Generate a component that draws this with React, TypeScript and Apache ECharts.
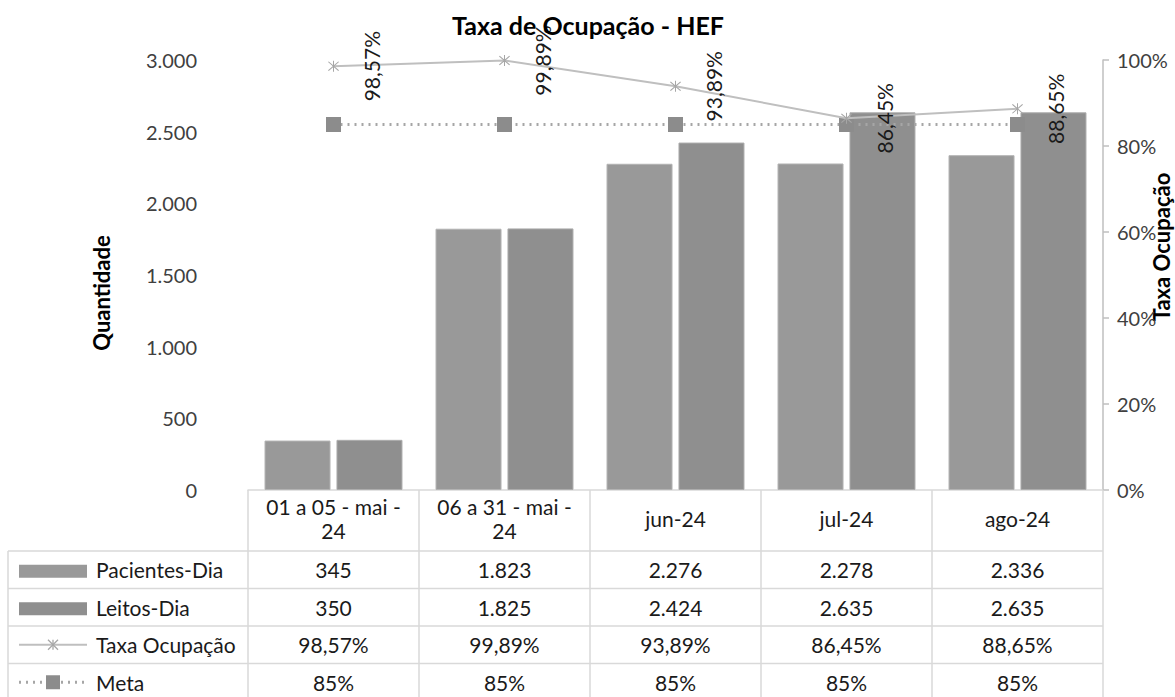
import React, { useEffect, useRef } from 'react';
import * as echarts from 'echarts';

const categories = ['01 a 05 - mai -\n24', '06 a 31 - mai -\n24', 'jun-24', 'jul-24', 'ago-24'];
const pacientesDia = [345, 1823, 2276, 2278, 2336];
const leitosDia = [350, 1825, 2424, 2635, 2635];
const taxaOcupacao = [98.57, 99.89, 93.89, 86.45, 88.65];
const meta = [85, 85, 85, 85, 85];
const seriesNames = ['Pacientes-Dia', 'Leitos-Dia', 'Taxa Ocupação', 'Meta'];

const W = 1175;
const H = 697;
const GL = 248;
const GR = 1103;
const GT = 60;
const GB = 490;
const TL = 8;
const HEADER_B = 551;
const ROW_H = 37.5;
const FONT = 'Lato, "Open Sans", sans-serif';
const FS = 21;
const FS_AX = 20;
const GRID_COLOR = '#d9d9d9';
const C_PAC = '#999999';
const C_LEI = '#8f8f8f';
const C_TAXA = '#bfbfbf';
const C_TAXA_MK = '#a6a6a6';
const C_META = '#a6a6a6';
const C_META_MK = '#8c8c8c';

const ASTERISK =
  'path://M9.2 0L10.8 0L10.8 20L9.2 20Z M1.4 2.6L2.6 1.4L18.6 17.4L17.4 18.6Z M17.4 1.4L18.6 2.6L2.6 18.6L1.4 17.4Z';

const fmtInt = (n: number) => String(n).replace(/\B(?=(\d{3})+(?!\d))/g, '.');
const fmtPct2 = (v: number) => v.toFixed(2).replace('.', ',') + '%';
const fmtPct0 = (v: number) => Math.round(v) + '%';

function buildTable(): any[] {
  const els: any[] = [];
  const n = categories.length;
  const colW = (GR - GL) / n;
  const rows = [
    pacientesDia.map(fmtInt),
    leitosDia.map(fmtInt),
    taxaOcupacao.map(fmtPct2),
    meta.map(fmtPct0),
  ];
  const bottom = HEADER_B + ROW_H * rows.length;
  const line = (x1: number, y1: number, x2: number, y2: number) => ({
    type: 'line',
    silent: true,
    shape: { x1, y1, x2, y2 },
    style: { stroke: GRID_COLOR, lineWidth: 1.5 },
  });
  for (let i = 0; i <= rows.length; i++) {
    const y = HEADER_B + i * ROW_H;
    els.push(line(TL, y, GR, y));
  }
  els.push(line(TL, HEADER_B, TL, bottom));
  for (let k = 0; k <= n; k++) {
    const x = GL + k * colW;
    els.push(line(x, HEADER_B, x, bottom));
  }
  rows.forEach((vals, r) => {
    const cy = HEADER_B + r * ROW_H + ROW_H / 2;
    vals.forEach((t, c) => {
      els.push({
        type: 'text',
        silent: true,
        x: GL + c * colW + colW / 2,
        y: cy,
        style: { text: t, fill: '#1a1a1a', font: `${FS}px ${FONT}`, align: 'center', verticalAlign: 'middle' },
      });
    });
    els.push({
      type: 'text',
      silent: true,
      x: 96,
      y: cy,
      style: { text: seriesNames[r], fill: '#1a1a1a', font: `${FS}px ${FONT}`, align: 'left', verticalAlign: 'middle' },
    });
    const sx1 = 19;
    const sx2 = 87;
    const mx = (sx1 + sx2) / 2;
    if (r === 0 || r === 1) {
      els.push({
        type: 'rect',
        silent: true,
        shape: { x: sx1, y: cy - 5, width: sx2 - sx1, height: 13 },
        style: { fill: r === 0 ? C_PAC : C_LEI },
      });
    } else if (r === 2) {
      els.push({
        type: 'line',
        silent: true,
        shape: { x1: sx1, y1: cy, x2: sx2, y2: cy },
        style: { stroke: C_TAXA, lineWidth: 2 },
      });
      const s = 5;
      [[0, -s, 0, s], [-s, -s, s, s], [-s, s, s, -s]].forEach((d) =>
        els.push({
          type: 'line',
          silent: true,
          shape: { x1: mx + d[0], y1: cy + d[1], x2: mx + d[2], y2: cy + d[3] },
          style: { stroke: C_TAXA_MK, lineWidth: 1.3 },
        })
      );
    } else {
      els.push({
        type: 'line',
        silent: true,
        shape: { x1: sx1, y1: cy, x2: sx2, y2: cy },
        style: { stroke: C_META, lineWidth: 3, lineDash: [2, 5] },
      });
      els.push({
        type: 'rect',
        silent: true,
        shape: { x: mx - 7, y: cy - 7, width: 14, height: 14 },
        style: { fill: C_META_MK },
      });
    }
  });
  return els;
}

export default function App() {
  const ref = useRef<HTMLDivElement>(null);
  useEffect(() => {
    if (!ref.current) return;
    const chart = echarts.init(ref.current, undefined, { renderer: 'svg' });
    const axisText = { color: '#404040', fontFamily: FONT, fontSize: FS_AX };
    chart.setOption({
      animation: false,
      backgroundColor: '#ffffff',
      title: {
        text: 'Taxa de Ocupação - HEF',
        left: 583,
        top: 7,
        textAlign: 'center',
        textStyle: { fontFamily: FONT, fontSize: 25, fontWeight: 'bold', color: '#000' },
      },
      grid: {
        left: GL,
        width: GR - GL,
        top: GT,
        height: GB - GT,
        containLabel: false,
        outerBoundsMode: 'none',
      },
      xAxis: {
        type: 'category',
        data: categories,
        axisLine: { show: true, lineStyle: { color: GRID_COLOR, width: 1.5 } },
        axisTick: { show: true, interval: 0, length: HEADER_B - GB, lineStyle: { color: GRID_COLOR, width: 1.5 } },
        axisLabel: {
          interval: 0,
          margin: 28,
          verticalAlign: 'middle',
          lineHeight: 24,
          color: '#1a1a1a',
          fontFamily: FONT,
          fontSize: FS,
        },
      },
      yAxis: [
        {
          type: 'value',
          min: 0,
          max: 3000,
          interval: 500,
          name: 'Quantidade',
          nameLocation: 'middle',
          nameRotate: 90,
          nameGap: 136,
          nameMoveOverlap: false,
          nameTextStyle: { fontFamily: FONT, fontSize: 22, fontWeight: 'bold', color: '#000', padding: [0, 36, 0, 0] },
          axisLine: { show: false },
          axisTick: { show: false },
          splitLine: { show: false },
          axisLabel: { ...axisText, margin: 51, formatter: (v: number) => fmtInt(v) },
        },
        {
          type: 'value',
          min: 0,
          max: 100,
          interval: 20,
          name: 'Taxa Ocupação',
          nameLocation: 'middle',
          nameRotate: 90,
          nameGap: 47,
          nameMoveOverlap: false,
          nameTextStyle: { fontFamily: FONT, fontSize: 22, fontWeight: 'bold', color: '#000', padding: [0, 0, 0, 56] },
          axisLine: { show: true, lineStyle: { color: C_TAXA, width: 1.5 } },
          axisTick: { show: true, length: 6, lineStyle: { color: C_TAXA, width: 1.5 } },
          splitLine: { show: false },
          axisLabel: { ...axisText, margin: 14, formatter: (v: number) => v + '%' },
        },
      ],
      series: [
        {
          name: seriesNames[0],
          type: 'bar',
          data: pacientesDia,
          barWidth: 66,
          barGap: '9%',
          itemStyle: { color: C_PAC, borderColor: '#b3b3b3', borderWidth: 1 },
        },
        {
          name: seriesNames[1],
          type: 'bar',
          data: leitosDia,
          barWidth: 66,
          itemStyle: { color: C_LEI, borderColor: '#adadad', borderWidth: 1 },
        },
        {
          name: seriesNames[3],
          type: 'line',
          yAxisIndex: 1,
          data: meta,
          symbol: 'rect',
          symbolSize: 15,
          itemStyle: { color: C_META_MK },
          lineStyle: { color: C_META, width: 3, type: [2, 5] },
          z: 3,
        },
        {
          name: seriesNames[2],
          type: 'line',
          yAxisIndex: 1,
          data: taxaOcupacao,
          symbol: ASTERISK,
          symbolSize: 11,
          itemStyle: { color: C_TAXA_MK },
          lineStyle: { color: C_TAXA, width: 2 },
          z: 4,
          label: {
            show: true,
            position: 'right',
            distance: 32,
            rotate: 90,
            align: 'center',
            verticalAlign: 'middle',
            color: '#1a1a1a',
            fontFamily: FONT,
            fontSize: FS,
            formatter: (p: any) => fmtPct2(p.value),
          },
        },
      ],
      graphic: buildTable(),
    });
    return () => chart.dispose();
  }, []);
  return <div ref={ref} style={{ position: 'fixed', left: 0, top: 0, width: W, height: H }} />;
}
